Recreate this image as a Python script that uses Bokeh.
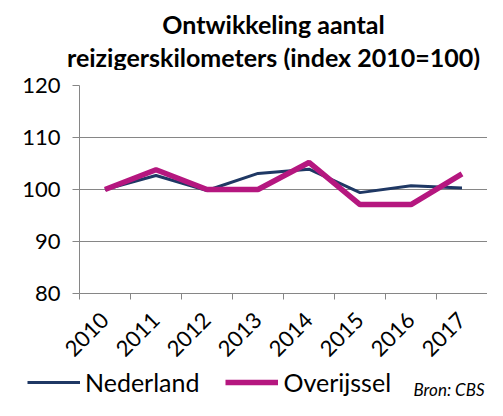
import numpy as np
from bokeh.plotting import figure
from bokeh.layouts import column
from bokeh.models import Range1d, FixedTicker, Label, Legend, LegendItem
from bokeh.embed import file_html
from bokeh.resources import INLINE

years = ["2010", "2011", "2012", "2013", "2014", "2015", "2016", "2017"]
nederland = [100.0, 102.7, 99.8, 103.1, 103.9, 99.4, 100.7, 100.3]
overijssel = [100.0, 103.8, 100.0, 100.0, 105.2, 97.1, 97.1, 103.0]
y_ticks = [80, 90, 100, 110, 120]
title_lines = ["Ontwikkeling aantal", "reizigerskilometers (index 2010=100)"]
series_names = ["Nederland", "Overijssel"]
source_text = "Bron: CBS"

FONT = "Lato"
GRID = "#868686"
NAVY = "#1F3864"
MAGENTA = "#B5177F"

W = 487
H_TOP, H_MAIN, H_LEG = 70, 296, 34


def strip(height):
    f = figure(width=W, height=height, output_backend="svg", toolbar_location=None,
               x_range=Range1d(0, W), y_range=Range1d(0, height),
               x_axis_location=None, y_axis_location=None, min_border=0,
               frame_align=False)
    f.grid.visible = False
    f.outline_line_color = None
    f.background_fill_color = "white"
    f.border_fill_color = "white"
    return f


# ---- title strip
t = strip(H_TOP)
for txt, yy in zip(title_lines, [47, 14]):
    t.add_layout(Label(x=273, y=yy, text=txt, text_font=FONT, text_font_style="bold",
                       text_font_size="25px", text_align="center",
                       text_baseline="alphabetic", text_color="black"))

# ---- main chart
LB, RB, TB = 79, 0, 15
FRAME_H = 211
BB = H_MAIN - TB - FRAME_H

p = figure(width=W, height=H_MAIN, output_backend="svg", toolbar_location=None,
           x_range=Range1d(0, len(years)), y_range=Range1d(80, 120),
           min_border_left=LB, min_border_right=RB, min_border_top=TB, min_border_bottom=BB,
           frame_align=False)
p.outline_line_color = None
p.background_fill_color = "white"
p.border_fill_color = "white"

xs = [i + 0.5 for i in range(len(years))]

p.line(xs, nederland, line_color=NAVY, line_width=3)
p.line(xs, overijssel, line_color=MAGENTA, line_width=5.5)

p.xaxis.ticker = FixedTicker(ticks=xs, minor_ticks=list(range(len(years) + 1)))
p.xaxis.major_label_overrides = {x: y for x, y in zip(xs, years)}
p.xaxis.major_label_orientation = np.pi / 4
p.xaxis.major_tick_line_color = None
p.xaxis.minor_tick_line_color = GRID
p.xaxis.minor_tick_out = 6
p.xaxis.minor_tick_in = 0
p.xaxis.axis_line_color = GRID
p.xaxis.major_label_text_font = FONT
p.xaxis.major_label_text_font_size = "22px"
p.xaxis.major_label_text_color = "black"
p.xaxis.major_label_standoff = 17

p.yaxis.ticker = FixedTicker(ticks=y_ticks)
p.yaxis.minor_tick_line_color = None
p.yaxis.major_tick_line_color = GRID
p.yaxis.major_tick_out = 7
p.yaxis.major_tick_in = 0
p.yaxis.axis_line_color = GRID
p.yaxis.major_label_text_font = FONT
p.yaxis.major_label_text_font_size = "22px"
p.yaxis.major_label_text_color = "black"
p.yaxis.major_label_standoff = 12

p.xgrid.grid_line_color = None
p.ygrid.grid_line_color = GRID
p.ygrid.grid_line_width = 1

# ---- legend strip
q = strip(H_LEG)
l1 = q.line([-20, -10], [-20, -10], line_color=NAVY, line_width=3)
l2 = q.line([-20, -10], [-20, -10], line_color=MAGENTA, line_width=5.5)
legend = Legend(items=[LegendItem(label=series_names[0], renderers=[l1]),
                       LegendItem(label=series_names[1], renderers=[l2])],
                orientation="horizontal", location=(27, 3),
                glyph_width=53, glyph_height=20, label_height=20,
                label_standoff=5, spacing=26, padding=0, margin=0,
                border_line_color=None, background_fill_alpha=0,
                label_text_font=FONT, label_text_font_size="25px", label_text_color="black")
q.add_layout(legend, "center")
q.add_layout(Label(x=413, y=11, text=source_text, text_font=FONT, text_font_style="italic",
                   text_font_size="17px", text_baseline="alphabetic", text_color="black"))

layout = column(t, p, q, spacing=0)
open("out.html", "w").write(file_html(layout, INLINE))
